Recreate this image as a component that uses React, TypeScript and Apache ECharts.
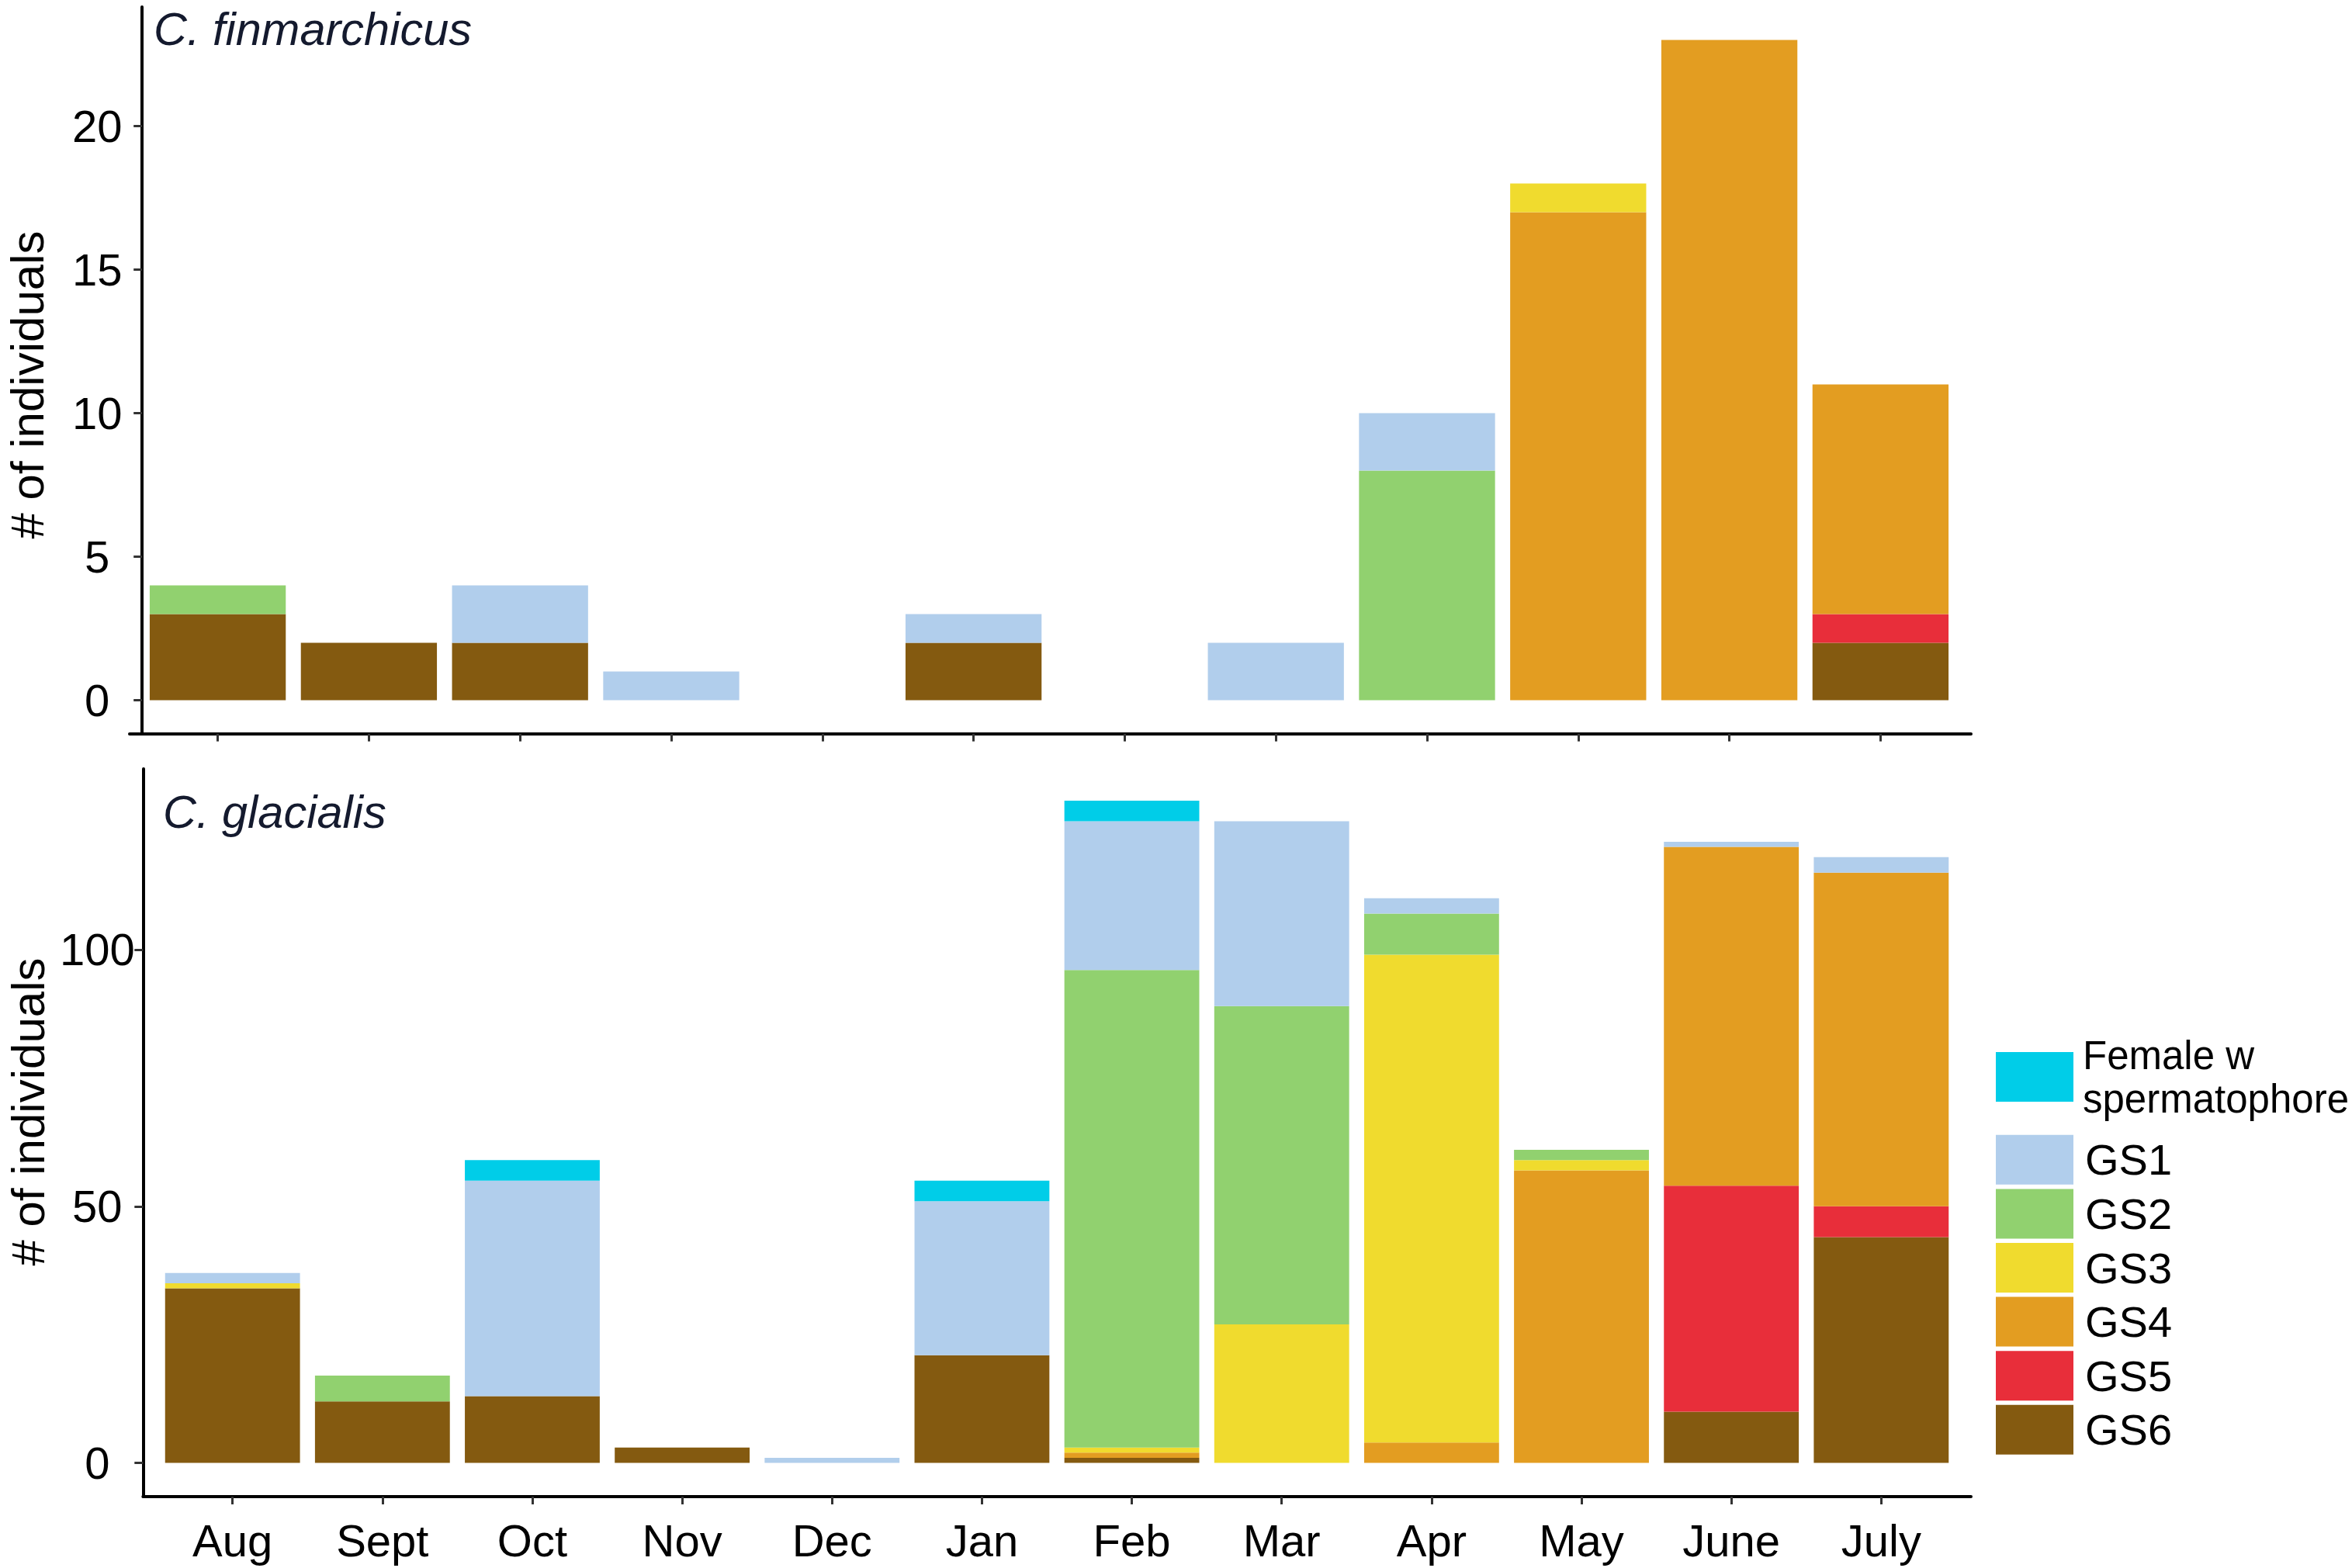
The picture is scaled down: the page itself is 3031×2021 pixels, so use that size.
import React, { useEffect, useRef } from 'react';
import * as echarts from 'echarts';

// ---- categories ----
const months = ['Aug', 'Sept', 'Oct', 'Nov', 'Dec', 'Jan', 'Feb', 'Mar', 'Apr', 'May', 'June', 'July'];

// stacking order, bottom to top
const stageNames = ['GS6', 'GS5', 'GS4', 'GS3', 'GS2', 'GS1', 'Female w spermatophore'];
const stageColors = ['#845A10', '#E82E3A', '#E39D21', '#F0DB2E', '#91D16F', '#B1CEEC', '#00CDE8'];

// ---- C. finmarchicus ----
const finGS6 = [3, 2, 2, 0, 0, 2, 0, 0, 0, 0, 0, 2];
const finGS5 = [0, 0, 0, 0, 0, 0, 0, 0, 0, 0, 0, 1];
const finGS4 = [0, 0, 0, 0, 0, 0, 0, 0, 0, 17, 23, 8];
const finGS3 = [0, 0, 0, 0, 0, 0, 0, 0, 0, 1, 0, 0];
const finGS2 = [1, 0, 0, 0, 0, 0, 0, 0, 8, 0, 0, 0];
const finGS1 = [0, 0, 2, 1, 0, 1, 0, 2, 2, 0, 0, 0];
const finFemale = [0, 0, 0, 0, 0, 0, 0, 0, 0, 0, 0, 0];

// ---- C. glacialis ----
const glaGS6 = [34, 12, 13, 3, 0, 21, 1, 0, 0, 0, 10, 44];
const glaGS5 = [0, 0, 0, 0, 0, 0, 0, 0, 0, 0, 44, 6];
const glaGS4 = [0, 0, 0, 0, 0, 0, 1, 0, 4, 57, 66, 65];
const glaGS3 = [1, 0, 0, 0, 0, 0, 1, 27, 95, 2, 0, 0];
const glaGS2 = [0, 5, 0, 0, 0, 0, 93, 62, 8, 2, 0, 0];
const glaGS1 = [2, 0, 42, 0, 1, 30, 29, 36, 3, 0, 1, 3];
const glaFemale = [0, 0, 4, 0, 0, 4, 4, 0, 0, 0, 0, 0];

// ---- tick labels ----
const finTicks = [0, 5, 10, 15, 20];
const glaTicks = [0, 50, 100];

const finValues = [finGS6, finGS5, finGS4, finGS3, finGS2, finGS1, finFemale];
const glaValues = [glaGS6, glaGS5, glaGS4, glaGS3, glaGS2, glaGS1, glaFemale];

const FONT = '"Liberation Sans", Arial, Helvetica, sans-serif';
const W = 3031;
const H = 2021;

const tickStyle = { color: '#333333', width: 3 };
const lineStyle = { color: '#000000', width: 4 };

function lineOnlyAxis(gridIndex: number, extra: any = {}) {
  return {
    gridIndex,
    type: 'value',
    min: 0,
    max: 1,
    axisLine: { show: true, onZero: false, lineStyle },
    axisTick: { show: false },
    axisLabel: { show: false },
    splitLine: { show: false },
    ...extra,
  };
}

export default function App() {
  const ref = useRef<HTMLDivElement>(null);

  useEffect(() => {
    if (!ref.current) return;
    const chart = echarts.init(ref.current, undefined, { renderer: 'svg', width: W, height: H });

    const mkSeries = (values: number[][], stack: string, axisIndex: number) =>
      stageNames.map((name, i) => ({
        name,
        type: 'bar',
        stack,
        xAxisIndex: axisIndex,
        yAxisIndex: axisIndex,
        data: values[i],
        barWidth: '90%',
        clip: false,
        itemStyle: { color: stageColors[i] },
        emphasis: { disabled: true },
      }));

    const option: any = {
      animation: false,
      backgroundColor: '#ffffff',
      textStyle: { fontFamily: FONT },
      grid: [
        { left: 183.2, top: 162.6, width: 2337.6, height: 740, outerBoundsMode: 'none' },
        { left: 167, top: 9, width: 2373, height: 936.7, outerBoundsMode: 'none' },
        { left: 203.1, top: 1223.9, width: 2317.8, height: 661.7, outerBoundsMode: 'none' },
        { left: 184.3, top: 991, width: 2355.7, height: 938, outerBoundsMode: 'none' },
      ],
      xAxis: [
        {
          gridIndex: 0,
          type: 'category',
          data: months,
          offset: 43,
          axisLine: { show: false, onZero: false },
          axisTick: { show: true, alignWithLabel: true, interval: 0, length: 10, lineStyle: tickStyle },
          axisLabel: { show: false },
          splitLine: { show: false },
        },
        lineOnlyAxis(1),
        {
          gridIndex: 2,
          type: 'category',
          data: months,
          offset: 43.4,
          axisLine: { show: false, onZero: false },
          axisTick: { show: true, alignWithLabel: true, interval: 0, length: 10, lineStyle: tickStyle },
          axisLabel: { show: true, interval: 0, fontSize: 58, color: '#000', margin: 27, fontFamily: FONT },
          splitLine: { show: false },
        },
        lineOnlyAxis(3),
      ],
      yAxis: [
        {
          gridIndex: 0,
          type: 'value',
          min: finTicks[0],
          max: finTicks[finTicks.length - 1],
          interval: finTicks[1] - finTicks[0],
          axisLine: { show: false },
          axisTick: { show: true, length: 11, lineStyle: tickStyle },
          axisLabel: { fontSize: 58, color: '#000', margin: 58, align: 'center', fontFamily: FONT },
          splitLine: { show: false },
        },
        lineOnlyAxis(1, { offset: -16 }),
        {
          gridIndex: 2,
          type: 'value',
          min: glaTicks[0],
          max: glaTicks[glaTicks.length - 1],
          interval: glaTicks[1] - glaTicks[0],
          offset: 18.8,
          axisLine: { show: false },
          axisTick: { show: true, length: 11, lineStyle: tickStyle },
          axisLabel: { fontSize: 58, color: '#000', margin: 59, align: 'center', fontFamily: FONT },
          splitLine: { show: false },
        },
        lineOnlyAxis(3),
      ],
      legend: [
        {
          data: ['Female w spermatophore'],
          orient: 'vertical',
          left: 2572,
          top: 1332,
          padding: 0,
          icon: 'rect',
          itemWidth: 100,
          itemHeight: 64,
          selectedMode: false,
          formatter: () => 'Female w\nspermatophore',
          textStyle: { fontSize: 51, lineHeight: 56, color: '#000', fontFamily: FONT, padding: [0, 0, 0, 7] },
        },
        {
          data: ['GS1', 'GS2', 'GS3', 'GS4', 'GS5', 'GS6'],
          orient: 'vertical',
          left: 2572,
          top: 1462.8,
          padding: 0,
          icon: 'rect',
          itemWidth: 100,
          itemHeight: 64,
          itemGap: 5.6,
          selectedMode: false,
          textStyle: { fontSize: 56, color: '#000', fontFamily: FONT, padding: [0, 0, 0, 10] },
        },
      ],
      graphic: [
        {
          type: 'text',
          x: 198,
          y: 37,
          style: {
            text: 'C. finmarchicus',
            fontSize: 59.5,
            fontStyle: 'italic',
            fontFamily: FONT,
            fill: '#141a2e',
            align: 'left',
            verticalAlign: 'middle',
          },
        },
        {
          type: 'text',
          x: 210,
          y: 1046,
          style: {
            text: 'C. glacialis',
            fontSize: 59.5,
            fontStyle: 'italic',
            fontFamily: FONT,
            fill: '#141a2e',
            align: 'left',
            verticalAlign: 'middle',
          },
        },
        {
          type: 'text',
          x: 35,
          y: 496,
          rotation: Math.PI / 2,
          style: {
            text: '# of individuals',
            fontSize: 60,
            fontFamily: FONT,
            fill: '#000',
            align: 'center',
            verticalAlign: 'middle',
          },
        },
        {
          type: 'text',
          x: 36,
          y: 1433,
          rotation: Math.PI / 2,
          style: {
            text: '# of individuals',
            fontSize: 60,
            fontFamily: FONT,
            fill: '#000',
            align: 'center',
            verticalAlign: 'middle',
          },
        },
      ],
      series: [...mkSeries(finValues, 'fin', 0), ...mkSeries(glaValues, 'gla', 2)],
    };

    chart.setOption(option);
    return () => {
      chart.dispose();
    };
  }, []);

  return (
    <div
      ref={ref}
      style={{ position: 'absolute', left: 0, top: 0, width: W, height: H, background: '#fff' }}
    />
  );
}
